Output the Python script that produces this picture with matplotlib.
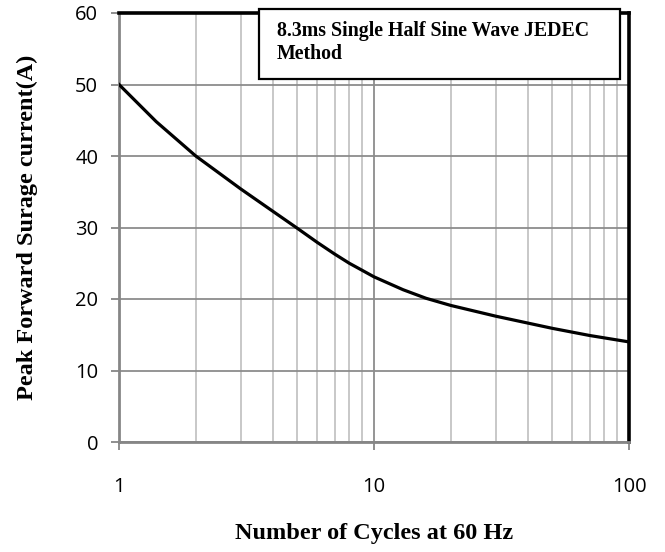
import numpy as np
import matplotlib.pyplot as plt
from matplotlib.patches import Rectangle
from matplotlib.ticker import LogLocator, FixedLocator, NullFormatter

# number of cycles vs peak forward surge current
cycles = [1, 1.4, 2, 3, 4, 5, 6, 7, 8, 9, 10, 13, 16, 20, 30, 50, 70, 100]
current = [50, 44.8, 40, 35.4, 32.3, 29.9, 27.9, 26.3, 25.0, 24.0, 23.1,
           21.3, 20.1, 19.1, 17.6, 15.9, 14.9, 14.0]

y_ticks = [0, 10, 20, 30, 40, 50, 60]
x_ticks = [1, 10, 100]
x_labels = ['1', '10', '100']
note = '8.3ms Single Half Sine Wave JEDEC\nMethod'

W, H = 665, 552
fig = plt.figure(figsize=(W / 100, H / 100), dpi=100)
ax = fig.add_axes([119 / W, 1 - 442 / H, (629 - 119) / W, (442 - 13) / H])

ax.plot(cycles, current, color='black', lw=2.3, zorder=3)

ax.set_xscale('log')
ax.set_xlim(1, 100)
ax.set_ylim(0, 60)

ax.xaxis.set_major_locator(FixedLocator(x_ticks))
ax.set_xticklabels(x_labels)
ax.xaxis.set_minor_locator(LogLocator(base=10, subs=np.arange(2, 10)))
ax.xaxis.set_minor_formatter(NullFormatter())
ax.set_yticks(y_ticks)

ax.grid(True, which='major', color='#8c8c8c', lw=1.3)
ax.grid(True, which='minor', axis='x', color='#c4c4c4', lw=1.3)
ax.set_axisbelow(True)

for s in ['left', 'bottom']:
    ax.spines[s].set_color('#868686')
    ax.spines[s].set_linewidth(2)
for s in ['top', 'right']:
    ax.spines[s].set_color('black')
    ax.spines[s].set_linewidth(2.6)

tick_font = 'Open Sans'
ax.tick_params(axis='y', which='major', direction='out', length=6, width=1.3,
               color='#868686', pad=9, labelsize=14.5)
ax.tick_params(axis='x', which='major', direction='out', length=6, width=1.3,
               color='#868686', pad=19, labelsize=14.5)
ax.tick_params(axis='x', which='minor', length=0)
for lab in ax.get_xticklabels() + ax.get_yticklabels():
    lab.set_family(tick_font)

ax.set_xlabel('Number of Cycles at 60 Hz', family='Liberation Serif',
              fontweight='bold', fontsize=17.5, labelpad=19)
ax.set_ylabel('Peak Forward Surage current(A)', family='Liberation Serif',
              fontweight='bold', fontsize=17.5, labelpad=27)

# annotation box in pixel terms of the figure
bx0, by0, bx1, by1 = 259, 9, 620, 79
fig.patches.append(Rectangle((bx0 / W, 1 - by1 / H), (bx1 - bx0) / W, (by1 - by0) / H,
                             transform=fig.transFigure, facecolor='white',
                             edgecolor='black', lw=1.6, zorder=5))
fig.text(277 / W, 1 - 21 / H, note, family='Liberation Serif', fontweight='bold',
         fontsize=14.3, va='top', ha='left', linespacing=1.2, zorder=6)

fig.savefig('out.png', dpi=100)
